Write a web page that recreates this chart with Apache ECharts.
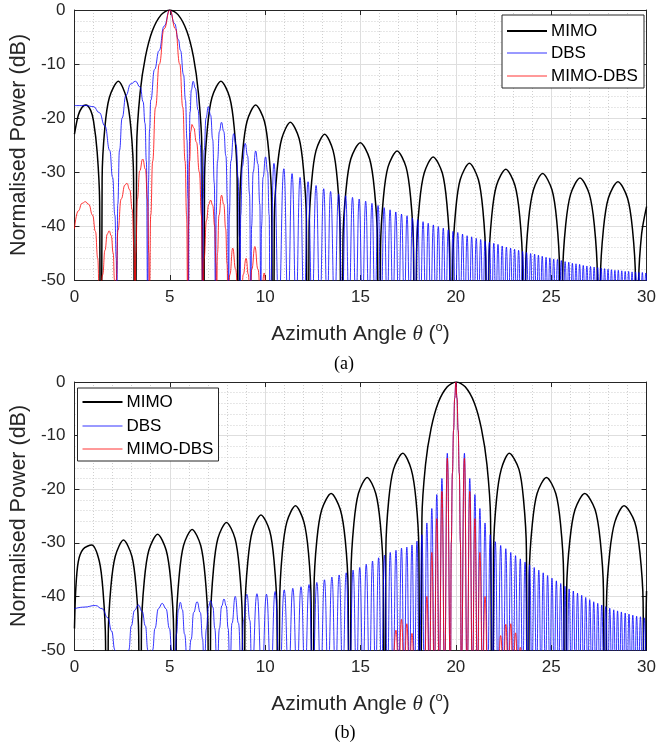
<!DOCTYPE html>
<html>
<head>
<meta charset="utf-8">
<script src="https://cdn.jsdelivr.net/npm/echarts@6/dist/echarts.min.js"></script>
<style>
html,body{margin:0;padding:0;background:#fff;}
#chart{width:659px;height:744px;}
</style>
</head>
<body>
<div id="chart"></div>
<script>
// ---------------- data ----------------
// values used where a curve dives into a null (below the -50 dB axis floor)
const FLOOR_DEEP = -120;   // wide MIMO lobes: near-vertical null walls
const FLOOR = -55;         // dense DBS / MIMO-DBS lobes

const seriesNames = ['MIMO', 'DBS', 'MIMO-DBS'];
const xTicks = [0, 5, 10, 15, 20, 25, 30];
const yTicks = [-50, -40, -30, -20, -10, 0];

// ---- panel (a) : beam steered to 5 deg ----
const mimoA_pts = [
  [0,-23],[0.2,-19.5],[0.4,-18],[0.6,-17.6],[0.85,-18.6],[1.0,-20.6],[1.19,-26.3],[1.32,-35.6],
  [1.45,-31.2],[1.59,-21.9],[1.83,-16.2],[2.3,-13.2],[2.72,-16.2],[2.96,-21.9],[3.1,-31.2],
  [3.26,-25.6],[3.44,-15.4],[3.72,-8.7],[4.08,-3.9],[4.54,-0.9],[5,0],[5.44,-0.9],[5.89,-3.9],[6.24,-8.7],[6.5,-15.4],[6.68,-25.6],
  [6.82,-31.2],[6.97,-21.9],[7.21,-16.2],[7.68,-13.2],[8.14,-16.2],[8.38,-21.9],[8.53,-31.2],
  [8.67,-35.6],[8.82,-26.3],[9.05,-20.6],[9.5,-17.6],[9.96,-20.6],[10.19,-26.3],[10.34,-35.6],
  [10.48,-38.8],[10.63,-29.5],[10.87,-23.8],[11.32,-20.8],[11.78,-23.8],[12.01,-29.5],[12.16,-38.8],
  [12.3,-41],[12.44,-31.7],[12.67,-26],[13.12,-23],[13.56,-26],[13.79,-31.7],[13.93,-41],
  [14.08,-42.6],[14.24,-33.3],[14.49,-27.6],[14.99,-24.6],[15.48,-27.6],[15.73,-33.3],[15.89,-42.6],
  [16.05,-44.1],[16.2,-34.8],[16.44,-29.1],[16.92,-26.1],[17.39,-29.1],[17.63,-34.8],[17.78,-44.1],
  [17.94,-45.2],[18.09,-35.9],[18.34,-30.2],[18.81,-27.2],[19.29,-30.2],[19.53,-35.9],[19.68,-45.2],
  [19.84,-46.4],[19.99,-37.1],[20.23,-31.4],[20.71,-28.4],[21.18,-31.4],[21.42,-37.1],[21.57,-46.4],
  [21.73,-47.5],[21.88,-38.2],[22.13,-32.5],[22.62,-29.5],[23.1,-32.5],[23.35,-38.2],[23.5,-47.5],
  [23.66,-48.3],[23.81,-39],[24.07,-33.3],[24.55,-30.3],[25.04,-33.3],[25.29,-39],[25.44,-48.3],
  [25.6,-49.1],[25.76,-39.8],[26.02,-34.1],[26.51,-31.1],[27.0,-34.1],[27.26,-39.8],[27.42,-49.1],
  [27.58,-49.8],[27.74,-40.5],[28.0,-34.8],[28.5,-31.8],[29.0,-34.8],[29.26,-40.5],[29.42,-49.8],
  [29.58,-51],[29.74,-41.5],[30,-36.4]
];
const mimoA_nulls = [1.38,3.17,6.75,8.6,10.41,12.23,14.0,15.97,17.86,19.76,21.65,23.58,25.52,27.5,29.5];

const dbsA_pts = [
  [0,-17.7],[0.6,-17.7],[1.0,-17.9],[1.3,-19],[1.6,-21.5],[1.85,-26],[2.0,-31],[2.12,-38],[2.19,-46],
  [2.27,-36],[2.36,-26],[2.5,-20],[2.7,-15.8],[2.95,-13.7],[3.2,-13.2],[3.45,-14.3],[3.6,-17],[3.7,-21],[3.77,-28],
  [3.88,-32],[3.94,-22],[4.0,-16.7],[4.2,-11],[4.44,-7.5],[4.7,-3],[5,0],[5.25,-2.5],[5.45,-5.5],[5.56,-7.5],[5.72,-12],[5.82,-16.7],[5.9,-24],[5.95,-35],
  [6.01,-28],[6.06,-19],[6.13,-14.8],[6.22,-13.2],[6.34,-14.5],[6.48,-18.5],[6.6,-25],[6.68,-35],
  [6.75,-35],[6.8,-26],[6.9,-20],[7.02,-17.9],[7.14,-19.5],[7.25,-24],[7.33,-32],
  [7.43,-38],[7.5,-28],[7.6,-22.5],[7.71,-20.8],[7.83,-22.5],[7.94,-27],[8.03,-36],
  [8.12,-38],[8.2,-28],[8.35,-22.9],[8.48,-25],[8.58,-31],[8.65,-42],
  [8.72,-38],[8.8,-29],[8.95,-24.7],[9.08,-27],[9.18,-34],
  [9.29,-40],[9.37,-30],[9.5,-26.1],[9.62,-28.5],[9.72,-36],
  [9.81,-40],[9.89,-31],[10.02,-27.2],[10.13,-30],[10.21,-38],
  [10.46,-28.4],[10.98,-29.4],[11.41,-30.3],[11.83,-31],[12.25,-31.8],[12.67,-32.5],[13.07,-33.1],[13.43,-33.6],
  [13.85,-34.1],[14.22,-34.4],[14.58,-34.7],[14.93,-35],[15.27,-35.4],[15.6,-35.8],[15.92,-36.2],[16.24,-36.6],
  [16.55,-37],[16.85,-37.4],[17.15,-37.8],[17.44,-38.1],[17.72,-38.5],[18,-38.8],[18.28,-39.2],[18.55,-39.5],
  [18.82,-39.8],[19.08,-40.1],[19.34,-40.4],[19.6,-40.7],[19.85,-41],[20.1,-41.2],[20.35,-41.5],[20.59,-41.8],
  [20.83,-42],[21.07,-42.3],[21.3,-42.5],[21.53,-42.8],[21.76,-43],[21.99,-43.2],[22.21,-43.4],[22.43,-43.7],
  [22.65,-43.9],[22.87,-44.1],[23.08,-44.3],[23.29,-44.5],[23.5,-44.7],[23.71,-44.9],[23.92,-45.1],[24.13,-45.2],
  [24.33,-45.4],[24.53,-45.6],[24.73,-45.8],[24.93,-45.9],[25.13,-46.1],[25.33,-46.2],[25.53,-46.4],[25.73,-46.6],
  [25.92,-46.7],[26.11,-46.9],[26.3,-47],[26.49,-47.1],[26.68,-47.3],[26.87,-47.4],[27.06,-47.5],[27.25,-47.6],
  [27.44,-47.7],[27.62,-47.8],[27.8,-47.9],[27.98,-48],[28.16,-48.1],[28.34,-48.2],[28.52,-48.2],[28.7,-48.3],
  [28.88,-48.4],[29.06,-48.4],[29.24,-48.5],[29.42,-48.5],[29.6,-48.6],[29.78,-48.6],[29.96,-48.7]
];
const dbsA_nulls = [2.22,3.84,5.98,6.72,7.4,8.08,8.68,9.25,9.77,10.25,10.72,11.2,11.62,12.04,12.46,12.87,13.25,13.64,
  14.04,14.4,14.76,15.1,15.44,15.76,16.08,16.4,16.7,17.0,17.3,17.58,17.86,18.14,18.42,18.68,18.95,19.21,19.47,19.73,
  19.98,20.23,20.47,20.71,20.95,21.19,21.42,21.65,21.88,22.1,22.32,22.54,22.76,22.98,23.19,23.4,23.61,23.82,24.03,
  24.23,24.43,24.63,24.83,25.03,25.23,25.43,25.63,25.83,26.02,26.21,26.4,26.59,26.78,26.97,27.16,27.35,27.53,27.71,
  27.89,28.07,28.25,28.43,28.61,28.79,28.97,29.15,29.33,29.51,29.69,29.87,30.05];

const mimoDbsA_pts = [
  [0,-40.5],[0.2,-37.2],[0.4,-35.8],[0.57,-35.5],[0.75,-36],[0.95,-38],[1.1,-41],[1.22,-46],
  [1.48,-49],[1.6,-44.5],[1.72,-41.5],[1.82,-40.9],[1.93,-41.8],[2.03,-45],[2.1,-50],
  [2.19,-50],[2.28,-40.8],[2.45,-35],[2.65,-32.4],[2.75,-32.1],[2.9,-33.3],[3.03,-37],[3.12,-44],
  [3.22,-45],[3.3,-35],[3.42,-29.8],[3.58,-27.6],[3.72,-29.5],[3.83,-35],[3.9,-45],
  [4.0,-38],[4.1,-28],[4.25,-18],[4.45,-10],[4.7,-3.5],[5,0],[5.3,-3.5],[5.52,-10],[5.68,-18],[5.8,-28],[5.88,-38],
  [5.98,-40],[6.04,-28],[6.1,-22.5],[6.16,-21.2],[6.25,-21.8],[6.4,-24.5],[6.55,-30],[6.66,-38],
  [6.8,-46],[6.92,-39],[7.04,-36],[7.14,-35.2],[7.25,-36.2],[7.35,-40],[7.42,-47],
  [7.5,-45],[7.58,-38],[7.71,-34.3],[7.83,-36],[7.93,-40.5],[8.0,-47],
  [8.15,-49],[8.3,-44.1],[8.45,-48],
  [8.85,-49],[9.0,-46],[9.12,-49],
  [9.3,-48],[9.46,-43.8],[9.62,-48],
  [9.95,-48.7]
];
const mimoDbsA_nulls = [1.31,2.15,3.18,3.93,5.94,6.73,7.45,8.05,8.6,8.75,9.2,9.78,10.06];

// ---- panel (b) : beam steered to 20 deg ----
const mimoB_pts = [
  [0,-46],[0.07,-38.5],[0.2,-33.5],[0.45,-31.2],[0.9,-30.4],[1.3,-33.4],[1.5,-39.1],[1.63,-48.4],
  [1.77,-47.5],[1.91,-38.2],[2.14,-32.5],[2.57,-29.5],[3.01,-32.5],[3.23,-38.2],[3.37,-47.5],
  [3.51,-46.4],[3.66,-37.1],[3.9,-31.4],[4.36,-28.4],[4.81,-31.4],[5.05,-37.1],[5.2,-46.4],
  [5.34,-45.5],[5.49,-36.2],[5.72,-30.5],[6.17,-27.5],[6.62,-30.5],[6.85,-36.2],[7.0,-45.5],
  [7.14,-44.2],[7.29,-34.9],[7.52,-29.2],[7.97,-26.2],[8.42,-29.2],[8.65,-34.9],[8.8,-44.2],
  [8.94,-42.8],[9.09,-33.5],[9.33,-27.8],[9.78,-24.8],[10.24,-27.8],[10.47,-33.5],[10.62,-42.8],
  [10.76,-41.1],[10.9,-31.8],[11.14,-26.1],[11.59,-23.1],[12.03,-26.1],[12.27,-31.8],[12.41,-41.1],
  [12.56,-38.8],[12.71,-29.5],[12.97,-23.8],[13.46,-20.8],[13.94,-23.8],[14.2,-29.5],[14.35,-38.8],
  [14.5,-35.8],[14.65,-26.5],[14.89,-20.8],[15.35,-17.8],[15.8,-20.8],[16.04,-26.5],[16.19,-35.8],
  [16.33,-31.3],[16.48,-22],[16.73,-16.3],[17.22,-13.3],[17.66,-16.3],[17.91,-22],[18.06,-31.3],
  [18.22,-25.6],[18.41,-15.4],[18.7,-8.7],[19.07,-3.9],[19.55,-0.9],[20.02,0],[20.49,-0.9],[20.97,-3.9],[21.34,-8.7],[21.63,-15.4],[21.82,-25.6],
  [21.98,-31.3],[22.13,-22],[22.38,-16.3],[22.8,-13.3],[23.31,-16.3],[23.55,-22],[23.7,-31.3],
  [23.85,-35.8],[24.01,-26.5],[24.26,-20.8],[24.75,-17.8],[25.24,-20.8],[25.49,-26.5],[25.65,-35.8],
  [25.81,-38.8],[25.98,-29.5],[26.25,-23.8],[26.76,-20.8],[27.3,-23.8],[27.57,-29.5],[27.74,-38.8],
  [27.9,-41.1],[28.07,-31.8],[28.34,-26.1],[28.82,-23.1],[29.38,-26.1],[29.65,-31.8],[29.82,-41.1],
  [29.97,-45],[30,-39]
];
const mimoB_nulls = [1.7,3.44,5.27,7.07,8.87,10.69,12.48,14.43,16.26,18.13,21.91,23.77,25.73,27.82,29.9];

const dbsB_pts = [
  [0,-42.3],[0.5,-42],[1.1,-41.7],[1.45,-42.3],[1.75,-44],[1.95,-46.5],[2.12,-50],
  [2.85,-50],[2.98,-45.5],[3.15,-42.6],[3.35,-41.6],[3.55,-42.8],[3.72,-45.5],[3.85,-50],
  [4.1,-50],[4.22,-46],[4.4,-42.3],[4.6,-41.3],[4.8,-42.3],[4.98,-46],[5.1,-50],
  [5.35,-47],[5.45,-42.5],[5.55,-41.1],[5.66,-42.5],[5.77,-47],
  [6.12,-48],[6.25,-43],[6.43,-41],[6.6,-43],[6.72,-48],
  [6.92,-46],[7.02,-42],[7.14,-40.8],[7.26,-42],[7.36,-46],
  [7.6,-46],[7.72,-41.8],[7.84,-40.5],[7.96,-41.8],[8.06,-46],
  [8.26,-45],[8.43,-40],[8.6,-45],
  [8.86,-44.5],[9.04,-39.6],[9.2,-44.5],
  [9.57,-39.5],[10.07,-39.6],[10.52,-39.1],[11,-38.8],[11.45,-38.5],[11.88,-38.2],[12.3,-37.8],[12.71,-37.4],
  [13.11,-36.9],[13.5,-36.4],[13.88,-36],[14.25,-35.6],[14.61,-35.1],[14.96,-34.6],[15.3,-34],[15.63,-33.4],
  [15.95,-32.8],[16.26,-32.3],[16.56,-31.8],[16.86,-31.4],[17.15,-31],[17.43,-30.8],[17.7,-30.4],[17.96,-29.7],
  [18.22,-28.5],[18.48,-26.3],[18.74,-23.6],[19,-21],[19.27,-18],[19.55,-13.3],
  [19.76,-30],[19.82,-17],[19.88,-9],[19.94,-3],[20,0],[20.06,-3],[20.12,-9],[20.18,-17],[20.24,-30],
  [20.45,-13.3],[20.73,-18],[21,-21],[21.26,-23.6],[21.53,-26.3],[21.8,-28.5],[22.07,-29.8],[22.35,-30.5],
  [22.62,-31.1],[22.88,-31.8],[23.13,-32.4],[23.38,-33],[23.63,-33.6],[23.87,-34.1],[24.11,-34.6],[24.35,-35.1],
  [24.58,-35.6],[24.81,-36.1],[25.04,-36.6],[25.27,-37.1],[25.5,-37.6],[25.72,-38.1],[25.94,-38.6],[26.16,-39],
  [26.38,-39.4],[26.6,-39.8],[26.81,-40.2],[27.02,-40.6],[27.23,-41],[27.44,-41.3],[27.65,-41.6],[27.86,-41.9],
  [28.07,-42.2],[28.28,-42.5],[28.48,-42.7],[28.68,-42.9],[28.88,-43.1],[29.08,-43.3],[29.28,-43.5],[29.48,-43.7],
  [29.68,-43.8],[29.88,-44]
];
const dbsB_nulls = [2.25,2.55,3.97,5.25,5.95,6.8,7.48,8.15,8.75,9.3,9.83,10.3,10.76,11.23,11.67,12.09,12.5,12.91,
  13.3,13.69,14.07,14.43,14.79,15.13,15.47,15.79,16.1,16.41,16.71,17.0,17.29,17.56,17.83,18.09,18.35,18.61,18.87,
  19.13,19.41,19.72,20.28,20.59,20.87,21.13,21.4,21.67,21.94,22.21,22.49,22.75,23.0,23.26,23.5,23.75,23.99,24.23,
  24.47,24.7,24.93,25.16,25.39,25.61,25.83,26.05,26.27,26.49,26.7,26.92,27.13,27.34,27.55,27.76,27.97,28.18,28.38,
  28.58,28.78,28.98,29.18,29.38,29.58,29.78,29.98];

const mimoDbsB_pts = [
  [16.86,-46.3],[17.15,-44.3],[17.43,-45.1],[17.7,-46.9],
  [18.48,-40],[18.74,-31.8],[19.0,-25.5],[19.27,-20.4],[19.55,-14.2],
  [19.76,-30],[19.82,-17],[19.88,-9],[19.94,-3],[20,0],[20.06,-3],[20.12,-9],[20.18,-17],[20.24,-30],
  [20.45,-14.2],[20.73,-20.4],[21.0,-25.5],[21.26,-31.8],[21.53,-40],
  [22.35,-47.3],[22.62,-45.2],[22.88,-45.1],[23.13,-46.8],[23.38,-49.5]
];
const mimoDbsB_nulls = [16.71,17.0,17.29,17.56,17.83,18.35,18.61,18.87,19.13,19.41,19.72,20.28,20.59,20.87,21.13,
  21.4,21.67,22.21,22.49,22.75,23.0,23.26,23.5];

// ---------------- chart ----------------
function build(pts, nulls, floor) {
  return pts.concat(nulls.map(function (x) { return [x, floor]; }))
            .sort(function (p, q) { return p[0] - q[0]; });
}

const FONT = '"Liberation Sans", Arial, Helvetica, sans-serif';
const AX = '#262626';
const colors = { 'MIMO': '#000000', 'DBS': '#0000ff', 'MIMO-DBS': '#ff0000' };
const widths = { 'MIMO': 1.5, 'DBS': 0.8, 'MIMO-DBS': 0.8 };
const legendWidths = { 'MIMO': 1.8, 'DBS': 0.8, 'MIMO-DBS': 0.8 };
const smoothness = { 'MIMO': 0.3, 'DBS': 0.5, 'MIMO-DBS': 0.5 };

const panels = [
  { grid: { left: 69, top: 10, width: 581, height: 270 },
    legend: { x: 502, y: 15, w: 142, h: 73, rows: [31, 53, 76] },
    label: { text: '(a)', x: 344, y: 364 },
    data: [build(mimoA_pts, mimoA_nulls, FLOOR_DEEP), build(dbsA_pts, dbsA_nulls, FLOOR),
           build(mimoDbsA_pts, mimoDbsA_nulls, FLOOR)] },
  { grid: { left: 72, top: 382, width: 575, height: 268 },
    legend: { x: 77.5, y: 388, w: 141, h: 73, rows: [402, 426, 449] },
    label: { text: '(b)', x: 345, y: 733 },
    data: [build(mimoB_pts, mimoB_nulls, FLOOR_DEEP), build(dbsB_pts, dbsB_nulls, FLOOR),
           build(mimoDbsB_pts, mimoDbsB_nulls, FLOOR)] }
];

const xName = 'Azimuth Angle {i|θ} ({s|o})';
const nameRich = {
  i: { fontFamily: '"Liberation Serif", "DejaVu Serif", serif', fontStyle: 'italic', fontSize: 21, color: AX },
  s: { fontFamily: FONT, fontSize: 13, color: AX, padding: [0, 0, 14, 0] }
};

const grids = [], xAxes = [], yAxes = [], series = [], graphics = [];

panels.forEach(function (p, k) {
  grids.push(Object.assign({ show: false }, p.grid));
  const base = { type: 'value', gridIndex: k, min: 0, max: 30, interval: 5 };
  xAxes.push(Object.assign({}, base, {
    position: 'bottom',
    name: xName, nameLocation: 'middle', nameGap: 41,
    nameTextStyle: { fontFamily: FONT, fontSize: 21, color: AX, rich: nameRich },
    axisLine: { show: true, onZero: false, lineStyle: { color: AX, width: 1 } },
    axisTick: { show: true, inside: true, length: 5, lineStyle: { color: AX } },
    axisLabel: { color: AX, fontSize: 17, fontFamily: FONT, margin: 9,
      formatter: function (v) { return xTicks.indexOf(v) >= 0 ? String(v) : ''; } },
    splitLine: { show: true, lineStyle: { color: '#dedede', width: 1 } },
    minorTick: { show: false, splitNumber: 5 },
    minorSplitLine: { show: true, lineStyle: { color: '#cfcfcf', type: [1, 2], width: 1 } }
  }));
  xAxes.push(Object.assign({}, base, {
    position: 'top',
    axisLine: { show: true, onZero: false, lineStyle: { color: AX, width: 1 } },
    axisTick: { show: true, inside: true, length: 5, lineStyle: { color: AX } },
    axisLabel: { show: false }, splitLine: { show: false }
  }));
  const ybase = { type: 'value', gridIndex: k, min: -50, max: 0, interval: 10 };
  yAxes.push(Object.assign({}, ybase, {
    position: 'left',
    name: 'Normalised Power (dB)', nameLocation: 'middle', nameGap: 42,
    nameTextStyle: { fontFamily: FONT, fontSize: 21.5, color: AX },
    axisLine: { show: true, onZero: false, lineStyle: { color: AX, width: 1 } },
    axisTick: { show: true, inside: true, length: 5, lineStyle: { color: AX } },
    axisLabel: { color: AX, fontSize: 17, fontFamily: FONT, margin: 9,
      formatter: function (v) { return yTicks.indexOf(v) >= 0 ? String(v) : ''; } },
    splitLine: { show: true, lineStyle: { color: '#dedede', width: 1 } },
    minorTick: { show: false, splitNumber: 5 },
    minorSplitLine: { show: true, lineStyle: { color: '#cfcfcf', type: [1, 2], width: 1 } }
  }));
  yAxes.push(Object.assign({}, ybase, {
    position: 'right',
    axisLine: { show: true, onZero: false, lineStyle: { color: AX, width: 1 } },
    axisTick: { show: true, inside: true, length: 5, lineStyle: { color: AX } },
    axisLabel: { show: false }, splitLine: { show: false }
  }));
  seriesNames.forEach(function (nm, j) {
    const s = {
      name: nm, type: 'line', xAxisIndex: 2 * k, yAxisIndex: 2 * k,
      data: p.data[j], symbol: 'none', showSymbol: false,
      smooth: smoothness[nm], clip: true,
      lineStyle: { color: colors[nm], width: widths[nm] },
      itemStyle: { color: colors[nm] },
      emphasis: { disabled: true }, z: 2 + j
    };
    if (nm !== 'MIMO') s.smoothMonotone = 'x';
    series.push(s);
  });

  // legend box (drawn as graphic so each entry keeps its own line style)
  const L = p.legend;
  graphics.push({
    type: 'rect', id: 'lgbox' + k, z: 100, silent: true,
    shape: { x: L.x, y: L.y, width: L.w, height: L.h },
    style: { fill: '#ffffff', stroke: AX, lineWidth: 1 }
  });
  seriesNames.forEach(function (nm, j) {
    graphics.push({
      type: 'line', id: 'lgline' + k + '_' + j, z: 101, silent: true,
      shape: { x1: L.x + 5, y1: L.rows[j], x2: L.x + 45, y2: L.rows[j] },
      style: { stroke: colors[nm], lineWidth: legendWidths[nm], fill: null }
    });
    graphics.push({
      type: 'text', id: 'lgtext' + k + '_' + j, z: 101, silent: true,
      x: L.x + 49, y: L.rows[j],
      style: { text: nm, font: '17px ' + FONT, fill: '#000', align: 'left', verticalAlign: 'middle' }
    });
  });

  graphics.push({
    type: 'text', id: 'panel' + k, z: 101, silent: true, x: p.label.x, y: p.label.y,
    style: { text: p.label.text, font: '18px "Liberation Serif", "Times New Roman", serif',
      fill: '#000', align: 'center', verticalAlign: 'middle' }
  });
});

const chart = echarts.init(document.getElementById('chart'), null, { renderer: 'canvas' });
chart.setOption({
  animation: false,
  backgroundColor: '#ffffff',
  grid: grids, xAxis: xAxes, yAxis: yAxes,
  series: series, graphic: { elements: graphics }
});
</script>
</body>
</html>
